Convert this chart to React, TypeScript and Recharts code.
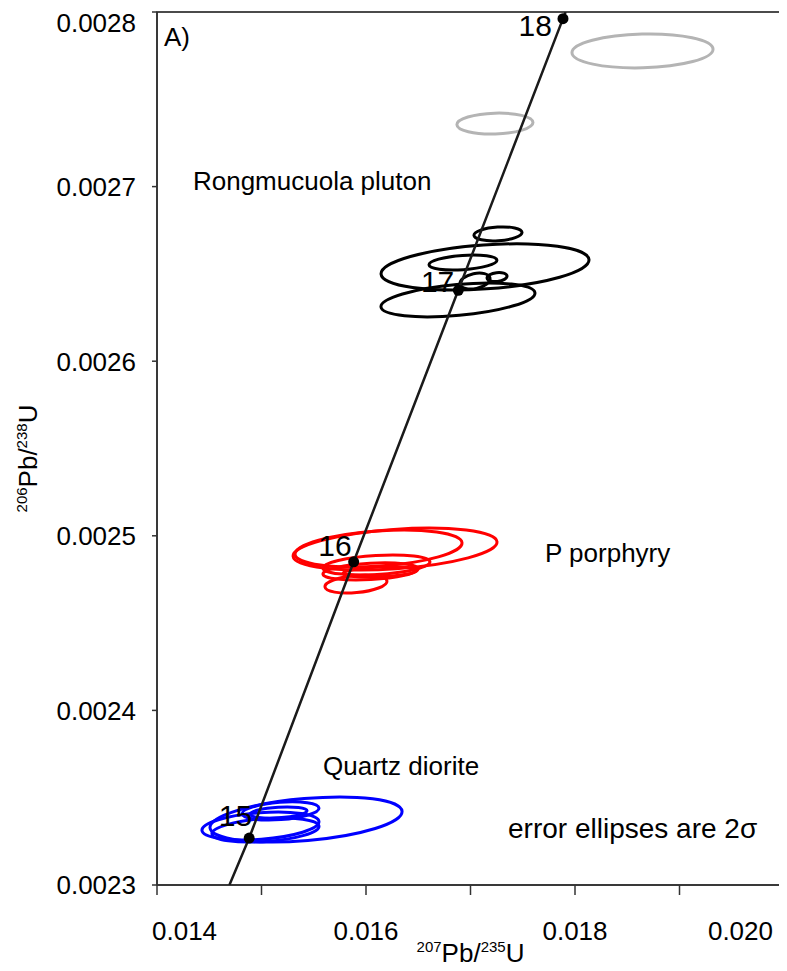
import React from 'react';
import { ScatterChart, Scatter, XAxis, YAxis, ReferenceArea, ReferenceDot } from 'recharts';

const FONT = '"Liberation Sans", Arial, Helvetica, sans-serif';

const xDomain: [number, number] = [0.014, 0.02];
const yDomain: [number, number] = [0.0023, 0.0028];
const xTicks = [0.014, 0.015, 0.016, 0.017, 0.018, 0.019, 0.02];
const yTicks = [0.0023, 0.0024, 0.0025, 0.0026, 0.0027, 0.0028];

// concordia (207Pb/235U vs 206Pb/238U)
const concordiaX = [0.014693, 0.014882, 0.015882, 0.016883, 0.017885, 0.01791];
const concordiaY = [0.0023, 0.0023269, 0.0024851, 0.0026406, 0.0027962, 0.0028];

// age marks on the concordia, Ma
const ages = [15, 16, 17, 18];
const ageX = [0.014882, 0.015882, 0.016883, 0.017885];
const ageY = [0.0023269, 0.0024851, 0.0026406, 0.0027962];

type Ell = { x: number; y: number; sx: number; sy: number; rho: number };

// 2 sigma error ellipses: centre, half widths, correlation
const rongmucuola: Ell[] = [
  { x: 0.017263, y: 0.0026729, sx: 0.00023, sy: 0.000004, rho: 0.2 },
  { x: 0.017139, y: 0.002654, sx: 0.000995, sy: 0.0000132, rho: 0.3 },
  { x: 0.016928, y: 0.0026565, sx: 0.000325, sy: 0.0000043, rho: 0.3 },
  { x: 0.017043, y: 0.0026459, sx: 0.000144, sy: 0.0000046, rho: 0.3 },
  { x: 0.017254, y: 0.0026482, sx: 0.0000957, sy: 0.0000026, rho: 0.2 },
  { x: 0.01688, y: 0.0026351, sx: 0.000737, sy: 0.0000097, rho: 0.4 },
];

const porphyry: Ell[] = [
  { x: 0.016278, y: 0.0024924, sx: 0.000976, sy: 0.000012, rho: 0.33 },
  { x: 0.01612, y: 0.0024927, sx: 0.000799, sy: 0.0000106, rho: 0.3 },
  { x: 0.0161, y: 0.0024833, sx: 0.000512, sy: 0.0000057, rho: 0.3 },
  { x: 0.016043, y: 0.0024796, sx: 0.000455, sy: 0.0000049, rho: 0.3 },
  { x: 0.015904, y: 0.0024724, sx: 0.000297, sy: 0.0000052, rho: 0.3 },
  { x: 0.016134, y: 0.0024793, sx: 0.000354, sy: 0.0000029, rho: 0.3 },
];

const diorite: Ell[] = [
  { x: 0.015426, y: 0.0023375, sx: 0.000919, sy: 0.0000129, rho: 0.35 },
  { x: 0.01499, y: 0.0023338, sx: 0.00056, sy: 0.000008, rho: 0.3 },
  { x: 0.015182, y: 0.0023424, sx: 0.000368, sy: 0.0000052, rho: 0.3 },
  { x: 0.015163, y: 0.0023415, sx: 0.000273, sy: 0.0000032, rho: 0.3 },
  { x: 0.015038, y: 0.0023315, sx: 0.000512, sy: 0.0000069, rho: 0.3 },
];

// discordant / excluded analyses (grey)
const excluded: Ell[] = [
  { x: 0.018646, y: 0.0027777, sx: 0.000675, sy: 0.0000097, rho: 0.1 },
  { x: 0.017234, y: 0.0027361, sx: 0.000364, sy: 0.000006, rho: 0.1 },
];

const notes = [
  { text: 'A)', x: 0.014067, y: 0.0027805, size: 26 },
  { text: 'Rongmucuola pluton', x: 0.014344, y: 0.0026981, size: 26 },
  { text: 'P porphyry', x: 0.017713, y: 0.002485, size: 26 },
  { text: 'Quartz diorite', x: 0.015589, y: 0.002363, size: 26 },
  { text: 'error ellipses are 2σ', x: 0.017359, y: 0.0023269, size: 28 },
];

const groups = [
  { items: excluded, color: '#b4b4b4' },
  { items: rongmucuola, color: '#000000' },
  { items: porphyry, color: '#ff0000' },
  { items: diorite, color: '#0000ff' },
];

// label nudges for the age marks (px)
const ageLabelNudge: Record<number, [number, number]> = {
  15: [3, -12],
  16: [-2, -6],
  17: [-4, 2],
  18: [-11, 17],
};

const concordiaData = concordiaX.map((x, i) => ({ x, y: concordiaY[i] }));
const ageData = ages.map((age, i) => ({ x: ageX[i], y: ageY[i], age }));

const ellipseShape = (e: Ell, color: string) => (p: any) => {
  const w = Math.abs(p.width) / 2;
  const h = Math.abs(p.height) / 2;
  const cx = p.x + p.width / 2;
  const cy = p.y + p.height / 2;
  const a = w * w;
  const d = h * h;
  const c = -e.rho * w * h;
  const mid = (a + d) / 2;
  const r = Math.sqrt(((a - d) / 2) ** 2 + c * c);
  const theta = (0.5 * Math.atan2(2 * c, a - d) * 180) / Math.PI;
  return (
    <ellipse
      cx={cx}
      cy={cy}
      rx={Math.sqrt(mid + r)}
      ry={Math.sqrt(Math.max(mid - r, 0))}
      transform={`rotate(${theta} ${cx} ${cy})`}
      fill="none"
      stroke={color}
      strokeWidth={3}
    />
  );
};

const XTick = (props: any) => {
  const { x, y, payload, index } = props;
  const v = payload.value;
  if (Math.round(v * 1000) % 2 !== 0) return null;
  const last = index === xTicks.length - 1;
  const anchor = index === 0 ? 'start' : last ? 'end' : 'middle';
  const dx = index === 0 ? -5 : 0;
  return (
    <text x={x + dx} y={y} dy="0.71em" textAnchor={anchor} fontSize={26} fontFamily={FONT} fill="#000">
      {v.toFixed(3)}
    </text>
  );
};

const YTick = (props: any) => {
  const { x, y, payload } = props;
  return (
    <text x={x} y={Math.max(y, 15)} dy="0.36em" textAnchor="end" fontSize={26} fontFamily={FONT} fill="#000">
      {payload.value.toFixed(4)}
    </text>
  );
};

const XTitle = (props: any) => {
  const vb = props.viewBox || { x: 149, y: 877, width: 627, height: 86 };
  const cx = vb.x + vb.width / 2;
  const y = vb.y + vb.height - 9;
  return (
    <text x={cx} y={y} textAnchor="middle" fontFamily={FONT} fill="#000">
      <tspan fontSize={15} dy={-10}>207</tspan>
      <tspan fontSize={26} dy={10}>Pb/</tspan>
      <tspan fontSize={15} dy={-10}>235</tspan>
      <tspan fontSize={26} dy={10}>U</tspan>
    </text>
  );
};

const YTitle = (props: any) => {
  const vb = props.viewBox || { x: 0, y: 4, width: 149, height: 873 };
  const x = vb.x + 29;
  const y = vb.y + vb.height / 2 + 10;
  return (
    <text x={x} y={y} transform={`rotate(-90 ${x} ${y})`} textAnchor="middle" fontFamily={FONT} fill="#000">
      <tspan fontSize={15} dy={-10}>206</tspan>
      <tspan fontSize={26} dy={10}>Pb/</tspan>
      <tspan fontSize={15} dy={-10}>238</tspan>
      <tspan fontSize={26} dy={10}>U</tspan>
    </text>
  );
};

const AgeDot = (p: any) => {
  const { cx, cy, payload } = p;
  const [dx, dy] = ageLabelNudge[payload.age] || [-3, -7];
  return (
    <g>
      <circle cx={cx} cy={cy} r={5.5} fill="#000" />
      <text x={cx + dx} y={cy + dy} textAnchor="end" fontSize={30} fontFamily={FONT} fill="#000">
        {payload.age}
      </text>
    </g>
  );
};

export default function App() {
  const axisStroke = { stroke: '#333', strokeWidth: 1.5 };
  return (
    <div style={{ width: 779, height: 963 }}>
      <ScatterChart width={779} height={963} margin={{ top: 4, right: 3, bottom: 0, left: 0 }}>
        <XAxis
          type="number"
          dataKey="x"
          domain={xDomain}
          ticks={xTicks}
          allowDataOverflow
          height={86}
          tickSize={10}
          tickMargin={27}
          axisLine={axisStroke}
          tickLine={axisStroke}
          tick={<XTick />}
          label={<XTitle />}
        />
        <YAxis
          type="number"
          dataKey="y"
          domain={yDomain}
          ticks={yTicks}
          allowDataOverflow
          width={149}
          tickSize={5}
          tickMargin={16}
          axisLine={axisStroke}
          tickLine={axisStroke}
          tick={<YTick />}
          label={<YTitle />}
        />
        <ReferenceArea
          x1={xDomain[0]}
          x2={xDomain[1]}
          y1={yDomain[0]}
          y2={yDomain[1]}
          ifOverflow="visible"
          fill="none"
          fillOpacity={0}
          stroke="#111"
          strokeWidth={1.5}
        />
        {groups.map((g) =>
          g.items.map((e, i) => (
            <ReferenceArea
              key={g.color + i}
              x1={e.x - e.sx}
              x2={e.x + e.sx}
              y1={e.y - e.sy}
              y2={e.y + e.sy}
              ifOverflow="visible"
              shape={ellipseShape(e, g.color)}
            />
          ))
        )}
        {notes.map((n) => (
          <ReferenceDot
            key={n.text}
            x={n.x}
            y={n.y}
            r={0}
            ifOverflow="visible"
            shape={(p: any) => (
              <text x={p.cx} y={p.cy} fontSize={n.size} fontFamily={FONT} fill="#000">
                {n.text}
              </text>
            )}
          />
        ))}
        <Scatter
          data={concordiaData}
          fill="#1a1a1a"
          strokeWidth={2.5}
          line={{ stroke: '#1a1a1a', strokeWidth: 2.5 }}
          shape={() => <g />}
          isAnimationActive={false}
        />
        <Scatter data={ageData} fill="#000" shape={<AgeDot />} isAnimationActive={false} />
      </ScatterChart>
    </div>
  );
}
